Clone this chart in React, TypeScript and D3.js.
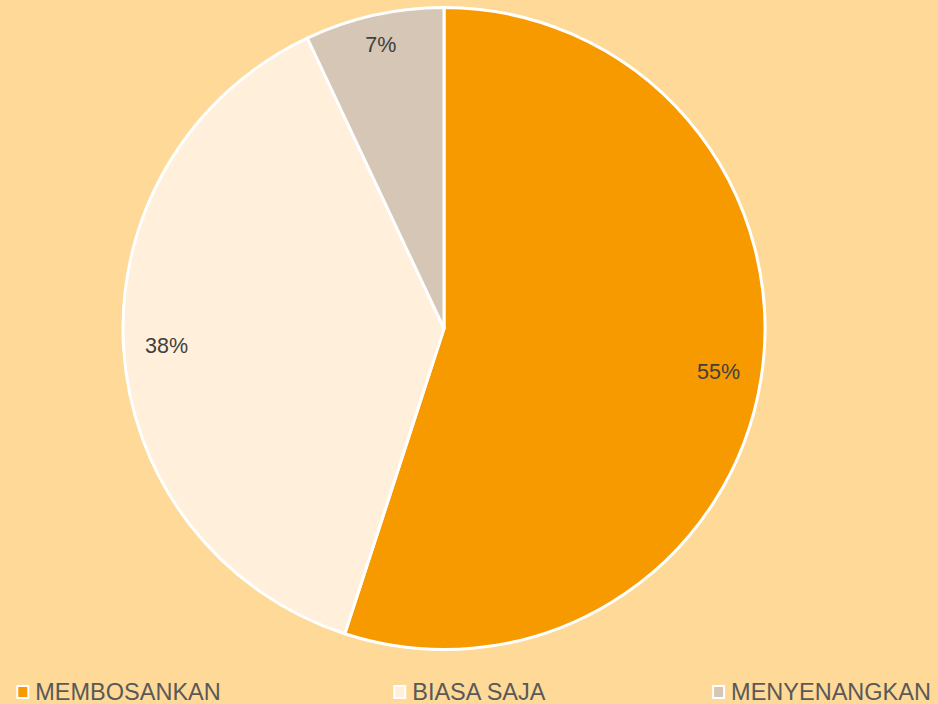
import React from "react";
import * as d3 from "d3";

const categories = ["MEMBOSANKAN", "BIASA SAJA", "MENYENANGKAN"];
const values = [55, 38, 7];
const sliceColors = ["#F79A00", "#FFEFDB", "#D5C6B5"];

const W = 938;
const H = 704;
const FONT = "'Liberation Sans', Arial, sans-serif";
const LEGEND_SIZE = 23.5;

function measure(text: string, size: number) {
  const ctx = document.createElement("canvas").getContext("2d");
  if (!ctx) return text.length * size * 0.65;
  ctx.font = `${size}px ${FONT}`;
  return ctx.measureText(text).width;
}

export default function App() {
  const cx = 444;
  const cy = 328.5;
  const r = 321;

  const pie = d3
    .pie<number>()
    .sort(null)
    .value((d) => d);
  const arcs = pie(values);

  const arc = d3.arc<d3.PieArcDatum<number>>().innerRadius(0).outerRadius(r);
  // small slices get their label pushed a bit further out, like Excel does
  const labelArc = (d: d3.PieArcDatum<number>) => {
    const k = d.value < 10 ? 0.904 : 0.866;
    return d3
      .arc<d3.PieArcDatum<number>>()
      .innerRadius(r * k)
      .outerRadius(r * k)
      .centroid(d);
  };

  // legend entries centred on evenly spaced slots
  const legendX = d3.scalePoint<string>().domain(categories).range([118.5, 821.5]);

  return (
    <svg
      width={W}
      height={H}
      style={{ position: "absolute", left: 0, top: 0, display: "block" }}
    >
      <rect width={W} height={H} fill="#FFD997" />
      <g transform={`translate(${cx},${cy})`}>
        {arcs.map((a, i) => (
          <path
            key={i}
            d={arc(a) || ""}
            fill={sliceColors[i]}
            stroke="#fff"
            strokeWidth={3}
            strokeLinejoin="round"
          />
        ))}
        {arcs.map((a, i) => {
          const [x, y] = labelArc(a);
          return (
            <text
              key={i}
              x={x}
              y={y}
              textAnchor="middle"
              dominantBaseline="central"
              fontFamily={FONT}
              fontSize={21.5}
              fill="#404040"
            >
              {`${values[i]}%`}
            </text>
          );
        })}
      </g>
      <g>
        {categories.map((c, i) => {
          const w = 19 + measure(c, LEGEND_SIZE);
          const x = (legendX(c) as number) - w / 2;
          return (
            <g key={c} transform={`translate(${x},686)`}>
              <rect
                x={1}
                y={0}
                width={11}
                height={12}
                fill={sliceColors[i]}
                stroke="#fff"
                strokeWidth={2}
              />
              <text x={19} y={14} fontFamily={FONT} fontSize={LEGEND_SIZE} fill="#595959">
                {c}
              </text>
            </g>
          );
        })}
      </g>
    </svg>
  );
}
